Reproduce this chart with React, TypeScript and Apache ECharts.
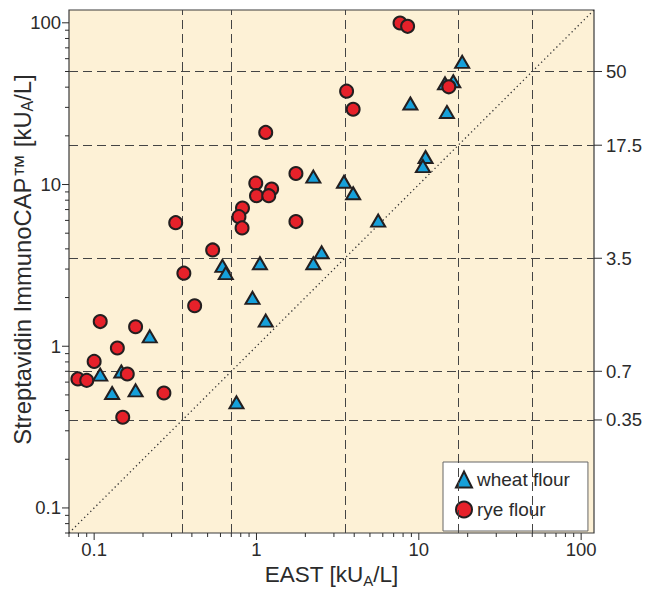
import React, { useEffect, useRef } from "react";
import * as echarts from "echarts";

const AXIS_MIN = 0.07;
const AXIS_MAX = 120;

const cutoffs = [0.35, 0.7, 3.5, 17.5, 50];
const cutoffLabels = ["0.35", "0.7", "3.5", "17.5", "50"];
const majorTicks = [0.1, 1, 10, 100];
const minorTicks = [
  0.07, 0.08, 0.09,
  0.2, 0.3, 0.4, 0.5, 0.6, 0.7, 0.8, 0.9,
  2, 3, 4, 5, 6, 7, 8, 9,
  20, 30, 40, 50, 60, 70, 80, 90,
];

const wheatX = [18.5, 14.5, 16.3, 8.87, 14.9, 11.0, 10.6, 3.46, 3.94, 5.62, 2.24, 2.52, 2.24, 1.05, 0.617, 0.647, 0.945, 1.14, 0.22, 0.109, 0.147, 0.129, 0.18, 0.753];
const wheatY = [57.3, 42.2, 43.5, 31.7, 28.1, 14.8, 13.0, 10.4, 8.83, 5.98, 11.2, 3.81, 3.26, 3.26, 3.14, 2.83, 1.99, 1.44, 1.15, 0.667, 0.698, 0.514, 0.533, 0.45];

const ryeX = [7.66, 8.53, 3.59, 3.94, 15.3, 1.14, 1.75, 0.99, 1.24, 1.0, 1.19, 0.82, 0.78, 0.815, 0.318, 1.75, 0.537, 0.357, 0.416, 0.109, 0.18, 0.139, 0.1, 0.16, 0.0794, 0.09, 0.269, 0.15];
const ryeY = [99.7, 95.1, 37.8, 29.2, 40.2, 21.0, 11.7, 10.2, 9.38, 8.53, 8.53, 7.16, 6.33, 5.39, 5.81, 5.9, 3.94, 2.83, 1.78, 1.42, 1.32, 0.975, 0.806, 0.673, 0.628, 0.615, 0.514, 0.364];

const FONT = "'Liberation Sans', Arial, Helvetica, sans-serif";
const INK = "#2b2b2b";

export default function App() {
  const ref = useRef<HTMLDivElement>(null);

  useEffect(() => {
    if (!ref.current) return;
    const chart = echarts.init(ref.current, null, { renderer: "svg" });

    const subRichX = {
      sub: { fontSize: 15, lineHeight: 15, padding: [11, 0, 0, 0], fontFamily: FONT, color: INK },
    };
    const subRichY = {
      sub: { fontSize: 16, lineHeight: 16, padding: [11, 0, 0, 0], fontFamily: FONT, color: INK },
    };

    const tickLine = (dir: string) => (params: any, api: any) => {
      const p = api.coord([api.value(0), api.value(1)]);
      const len = api.value(2);
      let shape;
      if (dir === "bottom") shape = { x1: p[0], y1: p[1], x2: p[0], y2: p[1] + len };
      else shape = { x1: p[0], y1: p[1], x2: p[0] - len, y2: p[1] };
      return { type: "line", shape, style: { stroke: INK, lineWidth: 1 }, silent: true };
    };

    const option: any = {
      animation: false,
      grid: {
        left: 69,
        right: 62,
        top: 10,
        bottom: 59,
        outerBoundsMode: "none",
        containLabel: false,
        show: true,
        backgroundColor: "#FDF1D6",
        borderColor: "#3a3a3a",
        borderWidth: 1.2,
      },
      legend: {
        data: ["wheat flour", "rye flour"],
        orient: "vertical",
        left: 443,
        top: 462,
        backgroundColor: "#ffffff",
        borderColor: "#666666",
        borderWidth: 1,
        padding: [8, 18, 12, 12],
        itemGap: 11,
        itemWidth: 16,
        itemHeight: 16,
        selectedMode: false,
        textStyle: { fontSize: 19, color: INK, fontFamily: FONT },
      },
      xAxis: {
        type: "log",
        logBase: 10,
        min: AXIS_MIN,
        max: AXIS_MAX,
        axisLine: { show: false },
        axisTick: { show: false },
        splitLine: { show: false },
        axisLabel: {
          fontSize: 18.5,
          color: INK,
          fontFamily: FONT,
          margin: 7,
          showMinLabel: false,
          showMaxLabel: false,
        },
        name: "EAST [kU{sub|A}/L]",
        nameLocation: "middle",
        nameGap: 30,
        nameMoveOverlap: false,
        nameTextStyle: { fontSize: 22.5, color: INK, fontFamily: FONT, rich: subRichX },
      },
      yAxis: {
        type: "log",
        logBase: 10,
        min: AXIS_MIN,
        max: AXIS_MAX,
        axisLine: { show: false },
        axisTick: { show: false },
        splitLine: { show: false },
        axisLabel: {
          fontSize: 18.5,
          color: INK,
          fontFamily: FONT,
          margin: 8,
          showMinLabel: false,
          showMaxLabel: false,
        },
        name: "Streptavidin ImmunoCAP™ [kU{sub|A}/L]",
        nameLocation: "middle",
        nameGap: 35,
        nameMoveOverlap: false,
        nameTextStyle: { fontSize: 23.8, color: INK, fontFamily: FONT, rich: subRichY, padding: [0, 0, 0, 24] },
      },
      series: [
        {
          name: "diagonal",
          type: "line",
          data: [[AXIS_MIN, AXIS_MIN], [AXIS_MAX, AXIS_MAX]],
          symbol: "none",
          silent: true,
          lineStyle: { color: "#333", width: 1.3, type: [1.3, 3] },
          markLine: {
            silent: true,
            symbol: "none",
            label: { show: false },
            lineStyle: { color: "#444", width: 1, type: [9, 5] },
            data: [
              ...cutoffs.map((v) => ({ xAxis: v })),
              ...cutoffs.map((v) => ({ yAxis: v })),
            ],
          },
          z: 1,
        },
        {
          name: "bottomTicks",
          type: "custom",
          silent: true,
          renderItem: tickLine("bottom"),
          data: [
            ...majorTicks.map((v) => [v, AXIS_MIN, 7]),
            ...minorTicks.map((v) => [v, AXIS_MIN, 4]),
          ],
        },
        {
          name: "leftTicks",
          type: "custom",
          silent: true,
          renderItem: tickLine("left"),
          data: [
            ...majorTicks.map((v) => [AXIS_MIN, v, 7]),
            ...minorTicks.map((v) => [AXIS_MIN, v, 4]),
          ],
        },
        {
          name: "rightAxis",
          type: "custom",
          silent: true,
          renderItem: (params: any, api: any) => {
            const p = api.coord([api.value(0), api.value(1)]);
            return {
              type: "group",
              children: [
                { type: "line", shape: { x1: p[0], y1: p[1], x2: p[0] + 8, y2: p[1] }, style: { stroke: INK, lineWidth: 1 } },
                {
                  type: "text",
                  x: p[0] + 12,
                  y: p[1],
                  style: {
                    text: cutoffLabels[params.dataIndex],
                    fontSize: 18.5,
                    fontFamily: FONT,
                    fill: INK,
                    align: "left",
                    verticalAlign: "middle",
                  },
                },
              ],
            };
          },
          data: cutoffs.map((v) => [AXIS_MAX, v]),
        },
        {
          name: "wheat flour",
          type: "scatter",
          symbol: "triangle",
          symbolSize: [14, 12],
          itemStyle: { color: "#16A0DA", borderColor: "#231F20", borderWidth: 2, opacity: 1 },
          emphasis: { disabled: true },
          data: wheatX.map((x, i) => [x, wheatY[i]]),
          z: 5,
        },
        {
          name: "rye flour",
          type: "scatter",
          symbol: "circle",
          symbolSize: 13,
          itemStyle: { color: "#E6212A", borderColor: "#231F20", borderWidth: 2, opacity: 1 },
          emphasis: { disabled: true },
          data: ryeX.map((x, i) => [x, ryeY[i]]),
          z: 6,
        },
      ],
    };

    chart.setOption(option);
    return () => chart.dispose();
  }, []);

  return (
    <div
      ref={ref}
      style={{ position: "fixed", left: 0, top: 0, width: 656, height: 592, background: "#fff" }}
    />
  );
}
